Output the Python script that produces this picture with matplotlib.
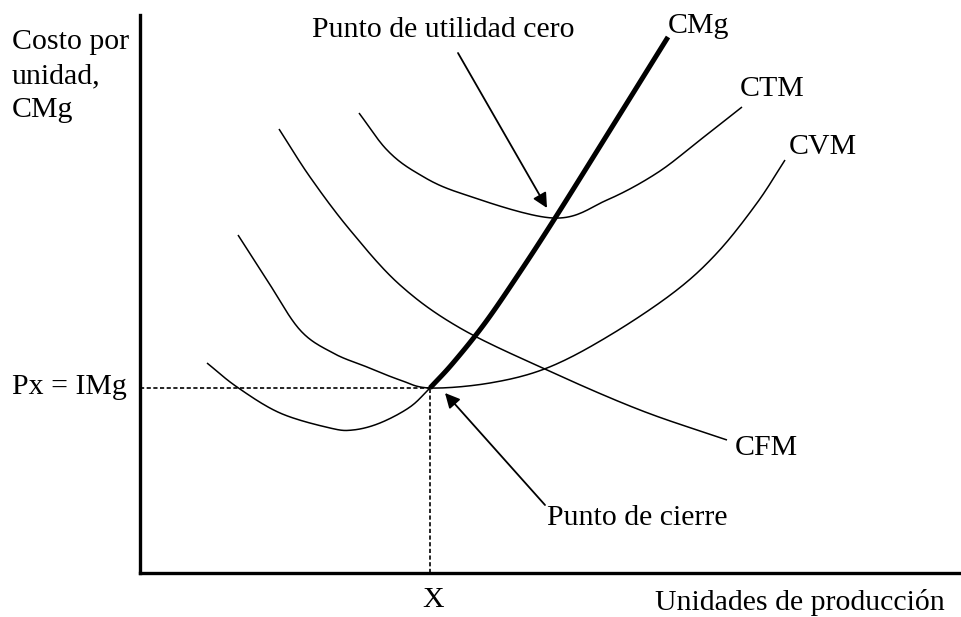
import numpy as np
import matplotlib
matplotlib.use('Agg')
import matplotlib.pyplot as plt

plt.rcParams['font.family'] = ['Liberation Serif', 'DejaVu Serif']
plt.rcParams['font.size'] = 21.5

# curve points (x = units, y = cost per unit)
cmg_low_x = [67, 97, 140, 190, 213, 240, 270, 290]
cmg_low_y = [210, 186, 160, 145, 143, 150, 166, 185]
cmg_up_x = [290, 313, 345, 380, 417, 472, 528]
cmg_up_y = [185, 210, 250, 301, 358, 446, 536]
cvm_x = [98, 127, 160, 193, 227, 260, 290, 350, 407, 467, 533, 577, 617, 645]
cvm_y = [338, 293, 243, 220, 206, 193, 185, 190, 205, 236, 280, 320, 370, 413]
ctm_x = [219, 247, 277, 320, 413, 467, 517, 560, 602]
ctm_y = [460, 423, 400, 380, 355, 373, 400, 433, 466]
cfm_x = [139, 170, 210, 260, 320, 407, 500, 587]
cfm_y = [444, 396, 343, 288, 245, 203, 163, 133]

# shutdown point (X, Px = IMg) and zero profit point
cierre = (290, 185)
utilidad_cero = (407, 365)


def smooth(xs, ys, n=20):
    # catmull-rom through the read points, just to draw them round
    p = np.column_stack([xs, ys]).astype(float)
    p = np.vstack([2 * p[0] - p[1], p, 2 * p[-1] - p[-2]])
    out = []
    t = np.linspace(0, 1, n, endpoint=False)[:, None]
    for i in range(1, len(p) - 2):
        p0, p1, p2, p3 = p[i - 1], p[i], p[i + 1], p[i + 2]
        out.append(0.5 * (2 * p1 + (-p0 + p2) * t + (2 * p0 - 5 * p1 + 4 * p2 - p3) * t ** 2
                          + (-p0 + 3 * p1 - 3 * p2 + p3) * t ** 3))
    out.append(p[-2][None, :])
    out = np.vstack(out)
    return out[:, 0], out[:, 1]


fig = plt.figure(figsize=(9.62, 6.17), dpi=100)
ax = fig.add_axes([140 / 962, 44 / 617, 822 / 962, 558 / 617])
ax.set_xlim(0, 822)
ax.set_ylim(0, 558)
for s in ['top', 'right']:
    ax.spines[s].set_visible(False)
for s in ['left', 'bottom']:
    ax.spines[s].set_linewidth(2.4)
ax.set_xticks([])
ax.set_yticks([])

thin = dict(color='black', lw=1.1, clip_on=False, solid_capstyle='butt')
for xs, ys in [(cmg_low_x, cmg_low_y), (cvm_x, cvm_y), (ctm_x, ctm_y), (cfm_x, cfm_y)]:
    sx, sy = smooth(xs, ys)
    ax.plot(sx, sy, **thin)
sx, sy = smooth(cmg_up_x, cmg_up_y)
ax.plot(sx, sy, color='black', lw=3.6, solid_capstyle='butt', clip_on=False)

# dashed guides to the shutdown point
ax.plot([0, cierre[0]], [cierre[1], cierre[1]], color='black', lw=1.2, ls=(0, (2.5, 1.5)))
ax.plot([cierre[0], cierre[0]], [0, cierre[1]], color='black', lw=1.2, ls=(0, (2.5, 1.5)))

arrow = dict(arrowstyle='-|>', color='black', lw=1.3, mutation_scale=22, shrinkA=0, shrinkB=0)
ax.annotate('', xy=utilidad_cero, xytext=(318, 520), arrowprops=arrow)
ax.annotate('', xy=(305, 180), xytext=(405, 68), arrowprops=arrow)

ax.text(172, 543, 'Punto de utilidad cero', va='center', ha='left')
ax.text(528, 547, 'CMg', va='center', ha='left')
ax.text(600, 484, 'CTM', va='center', ha='left')
ax.text(649, 426, 'CVM', va='center', ha='left')
ax.text(595, 125, 'CFM', va='center', ha='left')
ax.text(407, 55, 'Punto de cierre', va='center', ha='left')
ax.text(-13, 186, 'Px = IMg', va='center', ha='right')
ax.text(293, -27, 'X', va='center', ha='center')
ax.text(515, -30, 'Unidades de producción', va='center', ha='left')
ax.text(-128, 544, 'Costo por\nunidad,\nCMg', va='top', ha='left', linespacing=1.4)

fig.savefig('out.png', dpi=100)
